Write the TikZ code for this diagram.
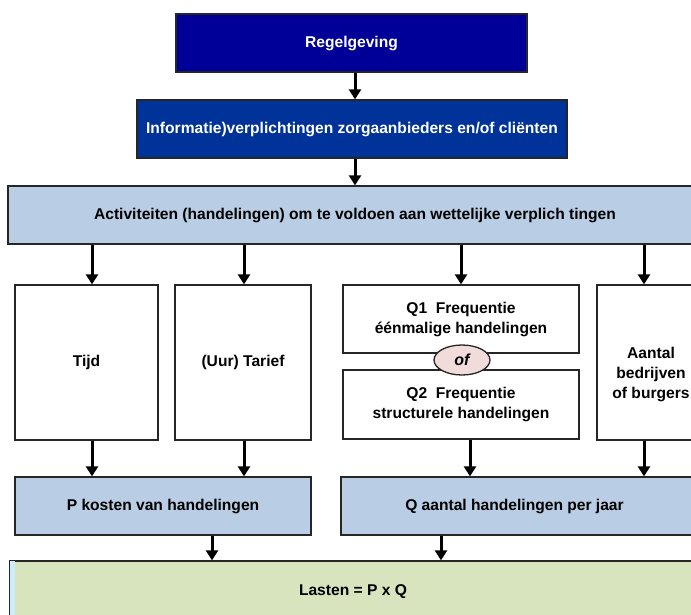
\documentclass[tikz,border=0pt]{standalone}
\usepackage{fontspec}
\setmainfont{Liberation Sans}
\usetikzlibrary{shapes,arrows.meta}
\definecolor{donkerblauw}{RGB}{0,0,153}
\definecolor{middenblauw}{RGB}{0,51,153}
\definecolor{lichtblauw}{RGB}{185,205,229}
\definecolor{lichtgroen}{RGB}{215,228,189}
\definecolor{roze}{RGB}{242,220,219}
\definecolor{ijsblauw}{RGB}{204,236,255}

\begin{document}
\begin{tikzpicture}[x=1pt,y=-1pt]
\tikzstyle{blok}=[rectangle,draw=black!85,line width=1.3pt,inner sep=0pt,align=center,font=\fontsize{15.6}{20}\selectfont\bfseries]
\tikzstyle{wit}=[blok,fill=white]
\tikzstyle{blauw}=[blok,fill=lichtblauw]
\tikzstyle{pijl}=[line width=3pt,-{Triangle[width=12pt,length=10pt]}]
\useasboundingbox (0,0) rectangle (691,614);
\clip (0,0) rectangle (691,614);

\node[blok,fill=donkerblauw,text=white,minimum width=351pt,minimum height=58pt] (reg) at (351.5,43) {Regelgeving};
\node[blok,fill=middenblauw,text=white,minimum width=430pt,minimum height=58pt] (info) at (352,129) {Informatie)verplichtingen zorgaanbieders en/of cliënten};
\node[blauw,minimum width=694pt,minimum height=58pt] (act) at (355,215) {Activiteiten (handelingen) om te voldoen aan wettelijke verplich tingen};

\node[wit,minimum width=143pt,minimum height=155pt] (tijd) at (86.5,362.5) {Tijd};
\node[wit,minimum width=136pt,minimum height=155pt] (tarief) at (243,362.5) {(Uur) Tarief};
\node[wit,minimum width=236pt,minimum height=68pt] (q1) at (461,319) {Q1\ \ Frequentie\\éénmalige handelingen};
\node[wit,minimum width=236pt,minimum height=69pt] (q2) at (461,404.5) {Q2\ \ Frequentie\\structurele handelingen};
\node[ellipse,draw=black!85,line width=1.3pt,fill=roze,minimum width=56pt,minimum height=30pt,inner sep=0pt,font=\fontsize{16}{18}\selectfont\bfseries\itshape] (of) at (462,360) {of};
\node[wit,minimum width=108pt,minimum height=155pt] (aantal) at (651,362.5) {\raisebox{-16pt}[0pt][0pt]{\begin{tabular}{@{}c@{}}Aantal\\bedrijven\\of burgers\end{tabular}}};

\node[blauw,minimum width=296pt,minimum height=58pt] (pkost) at (163,506) {P kosten van handelingen};
\node[blauw,minimum width=360pt,minimum height=58pt] (qaantal) at (521,506) {Q aantal handelingen per jaar\hspace*{13pt}};

\node[blok,fill=lichtgroen,minimum width=686pt,minimum height=62pt] (lasten) at (353,592) {Lasten = P x Q};
\fill[ijsblauw] ([shift={(0.65pt,-0.65pt)}]lasten.north west) rectangle ([xshift=6pt]lasten.south west);

% pijlen
\draw[pijl] (reg.south -| 355,0) -- (info.north -| 355,0);
\draw[pijl] (info.south -| 355,0) -- (act.north -| 355,0);
\draw[pijl] (act.south -| 92,0) -- (tijd.north -| 92,0);
\draw[pijl] (act.south -| 244,0) -- (tarief.north -| 244,0);
\draw[pijl] (act.south -| 461,0) -- (q1.north -| 461,0);
\draw[pijl] (act.south -| 644,0) -- (aantal.north -| 644,0);
\draw[pijl] (tijd.south -| 92,0) -- (pkost.north -| 92,0);
\draw[pijl] (tarief.south -| 244,0) -- (pkost.north -| 244,0);
\draw[pijl] (q2.south -| 470,0) -- (qaantal.north -| 470,0);
\draw[pijl] (aantal.south -| 644,0) -- (qaantal.north -| 644,0);
\draw[pijl] (pkost.south -| 212,0) -- (lasten.north -| 212,0);
\draw[pijl] (qaantal.south -| 441,0) -- (lasten.north -| 441,0);
\end{tikzpicture}
\end{document}
